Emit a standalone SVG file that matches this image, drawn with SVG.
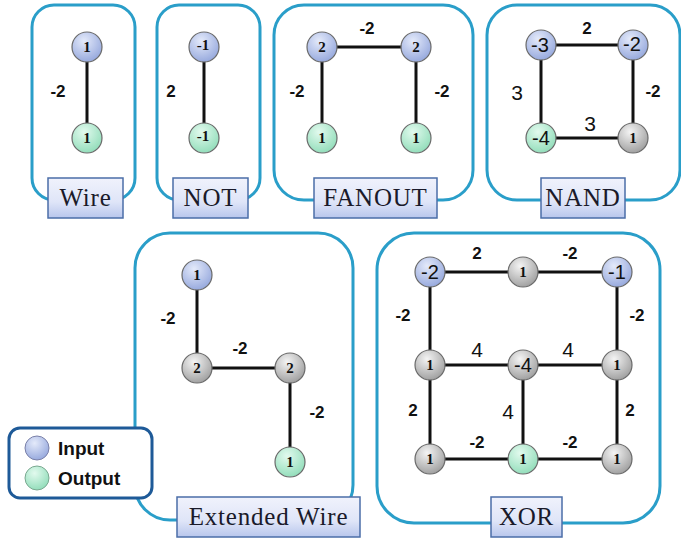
<svg xmlns="http://www.w3.org/2000/svg" width="681" height="541" viewBox="0 0 681 541">
<defs>
<radialGradient id="gBlue" cx="0.4" cy="0.3" r="0.75">
<stop offset="0" stop-color="#e4eafa"/><stop offset="1" stop-color="#93a6dc"/>
</radialGradient>
<radialGradient id="gGreen" cx="0.4" cy="0.3" r="0.75">
<stop offset="0" stop-color="#e2faee"/><stop offset="1" stop-color="#8fdcb8"/>
</radialGradient>
<radialGradient id="gGray" cx="0.4" cy="0.3" r="0.75">
<stop offset="0" stop-color="#f4f4f4"/><stop offset="1" stop-color="#9c9c9c"/>
</radialGradient>
<linearGradient id="gLab" x1="0" y1="0" x2="0" y2="1">
<stop offset="0" stop-color="#f0f2fc"/><stop offset="0.6" stop-color="#dfe5f8"/><stop offset="1" stop-color="#b8c6ec"/>
</linearGradient>
<style>
.panel{fill:none;stroke:#2a9ec9;stroke-width:3}
.lab rect{fill:url(#gLab);stroke:#4b6ea8;stroke-width:1.5}
.lab text{font-family:"Liberation Serif",serif;font-size:25px;letter-spacing:0.8px;fill:#1a1a2a;text-anchor:middle}
.edge{stroke:#111;stroke-width:3;fill:none}
.n circle{stroke:#6a6a6a;stroke-width:1.2}
.b{fill:url(#gBlue)}.g{fill:url(#gGreen)}.k{fill:url(#gGray)}
.n text{font-family:"Liberation Serif",serif;font-weight:bold;font-size:15px;fill:#111;text-anchor:middle}
.n text.big{font-family:"Liberation Sans",sans-serif;font-weight:normal;font-size:20px}
.w{font-family:"Liberation Sans",sans-serif;font-weight:bold;font-size:17px;fill:#111;text-anchor:middle}
.w2{font-family:"Liberation Sans",sans-serif;font-size:21px;fill:#111;text-anchor:middle}
.leg text{font-family:"Liberation Sans",sans-serif;font-weight:bold;font-size:19px;fill:#111}
</style>
</defs>

<g id="panels">
<rect class="panel" x="32" y="5" width="103" height="195" rx="22"/>
<rect class="panel" x="157" y="5" width="103" height="195" rx="22"/>
<rect class="panel" x="274" y="5" width="199" height="195" rx="30"/>
<rect class="panel" x="487" y="5" width="193" height="195" rx="30"/>
<rect class="panel" x="135" y="233" width="218" height="287" rx="35"/>
<rect class="panel" x="377" y="233" width="283" height="290" rx="37"/>
</g>

<g id="connectors">
<line class="edge" x1="87" y1="47" x2="87" y2="138"/>
<line class="edge" x1="204" y1="47" x2="204" y2="138"/>
<line class="edge" x1="322" y1="47" x2="416" y2="47"/>
<line class="edge" x1="322" y1="47" x2="322" y2="138"/>
<line class="edge" x1="416" y1="47" x2="416" y2="138"/>
<line class="edge" x1="541" y1="45" x2="633" y2="45"/>
<line class="edge" x1="541" y1="45" x2="541" y2="138"/>
<line class="edge" x1="633" y1="45" x2="633" y2="138"/>
<line class="edge" x1="541" y1="138" x2="633" y2="138"/>
<line class="edge" x1="197" y1="275" x2="197" y2="368"/>
<line class="edge" x1="197" y1="368" x2="290" y2="368"/>
<line class="edge" x1="290" y1="368" x2="290" y2="462"/>
<line class="edge" x1="430" y1="272" x2="617" y2="272"/>
<line class="edge" x1="430" y1="365" x2="617" y2="365"/>
<line class="edge" x1="430" y1="459" x2="617" y2="459"/>
<line class="edge" x1="430" y1="272" x2="430" y2="459"/>
<line class="edge" x1="617" y1="272" x2="617" y2="459"/>
<line class="edge" x1="523" y1="365" x2="523" y2="459"/>
</g>

<g id="edge-labels">
<text class="w" x="58" y="97">-2</text>
<text class="w" x="171" y="97">2</text>
<text class="w" x="367" y="34">-2</text>
<text class="w" x="297" y="97">-2</text>
<text class="w" x="442" y="97">-2</text>
<text class="w" x="587" y="34">2</text>
<text class="w2" x="517" y="100">3</text>
<text class="w" x="653" y="97">-2</text>
<text class="w2" x="590" y="131">3</text>
<text class="w" x="168" y="324">-2</text>
<text class="w" x="240" y="354">-2</text>
<text class="w" x="317" y="418">-2</text>
<text class="w" x="477" y="259">2</text>
<text class="w" x="570" y="259">-2</text>
<text class="w" x="403" y="321">-2</text>
<text class="w" x="637" y="321">-2</text>
<text class="w2" x="477" y="357">4</text>
<text class="w2" x="568" y="357">4</text>
<text class="w" x="413" y="416">2</text>
<text class="w2" x="508" y="419">4</text>
<text class="w" x="630" y="416">2</text>
<text class="w" x="477" y="448">-2</text>
<text class="w" x="570" y="448">-2</text>
</g>

<g id="wire-in" class="n"><circle class="b" cx="87" cy="47" r="15"/><text x="87" y="52">1</text></g>
<g id="wire-out" class="n"><circle class="g" cx="87" cy="138" r="15"/><text x="87" y="143">1</text></g>
<g id="not-in" class="n"><circle class="b" cx="204" cy="47" r="15"/><text x="203" y="50">-1</text></g>
<g id="not-out" class="n"><circle class="g" cx="204" cy="138" r="15"/><text x="203" y="141">-1</text></g>
<g id="fan-in1" class="n"><circle class="b" cx="322" cy="47" r="15"/><text x="322" y="52">2</text></g>
<g id="fan-in2" class="n"><circle class="b" cx="416" cy="47" r="15"/><text x="416" y="52">2</text></g>
<g id="fan-out1" class="n"><circle class="g" cx="322" cy="138" r="15"/><text x="322" y="143">1</text></g>
<g id="fan-out2" class="n"><circle class="g" cx="416" cy="138" r="15"/><text x="416" y="143">1</text></g>
<g id="nand-in1" class="n"><circle class="b" cx="541" cy="45" r="15"/><text class="big" x="540" y="52">-3</text></g>
<g id="nand-in2" class="n"><circle class="b" cx="633" cy="45" r="15"/><text class="big" x="632" y="51">-2</text></g>
<g id="nand-out" class="n"><circle class="g" cx="541" cy="138" r="15"/><text class="big" x="541" y="145">-4</text></g>
<g id="nand-aux" class="n"><circle class="k" cx="633" cy="138" r="15"/><text x="633" y="143">1</text></g>
<g id="ext-in" class="n"><circle class="b" cx="197" cy="275" r="15"/><text x="197" y="280">1</text></g>
<g id="ext-a1" class="n"><circle class="k" cx="197" cy="368" r="15"/><text x="197" y="373">2</text></g>
<g id="ext-a2" class="n"><circle class="k" cx="290" cy="368" r="15"/><text x="290" y="373">2</text></g>
<g id="ext-out" class="n"><circle class="g" cx="290" cy="462" r="15"/><text x="290" y="467">1</text></g>
<g id="xor-in1" class="n"><circle class="b" cx="430" cy="272" r="15"/><text class="big" x="430" y="279">-2</text></g>
<g id="xor-t" class="n"><circle class="k" cx="523" cy="272" r="15"/><text x="523" y="277">1</text></g>
<g id="xor-in2" class="n"><circle class="b" cx="617" cy="272" r="15"/><text class="big" x="617" y="279">-1</text></g>
<g id="xor-ml" class="n"><circle class="k" cx="430" cy="365" r="15"/><text x="430" y="370">1</text></g>
<g id="xor-c" class="n"><circle class="k" cx="523" cy="365" r="15"/><text class="big" x="523" y="372">-4</text></g>
<g id="xor-mr" class="n"><circle class="k" cx="617" cy="365" r="15"/><text x="617" y="370">1</text></g>
<g id="xor-bl" class="n"><circle class="k" cx="430" cy="459" r="15"/><text x="430" y="464">1</text></g>
<g id="xor-out" class="n"><circle class="g" cx="523" cy="459" r="15"/><text x="523" y="464">1</text></g>
<g id="xor-br" class="n"><circle class="k" cx="617" cy="459" r="15"/><text x="617" y="464">1</text></g>

<g id="label-wire" class="lab"><rect x="48" y="178" width="75" height="40"/><text x="85.5" y="206">Wire</text></g>
<g id="label-not" class="lab"><rect x="173" y="178" width="75" height="40"/><text x="210.5" y="206">NOT</text></g>
<g id="label-fanout" class="lab"><rect x="314" y="178" width="123" height="40"/><text x="375.5" y="206">FANOUT</text></g>
<g id="label-nand" class="lab"><rect x="541" y="178" width="84" height="40"/><text x="583" y="206">NAND</text></g>
<g id="label-ext" class="lab"><rect x="177" y="497" width="183" height="40"/><text x="268.5" y="525">Extended Wire</text></g>
<g id="label-xor" class="lab"><rect x="491" y="497" width="71" height="40"/><text x="526.5" y="525">XOR</text></g>

<g id="legend" class="leg">
<rect x="9" y="428" width="143" height="70" rx="11" fill="#fff" stroke="#1e5a98" stroke-width="3"/>
<circle cx="37" cy="448" r="12" fill="url(#gBlue)" stroke="#7a80a8" stroke-width="1"/>
<circle cx="37" cy="478" r="12" fill="url(#gGreen)" stroke="#7aa890" stroke-width="1"/>
<text x="58" y="455">Input</text>
<text x="58" y="485">Output</text>
</g>
</svg>
